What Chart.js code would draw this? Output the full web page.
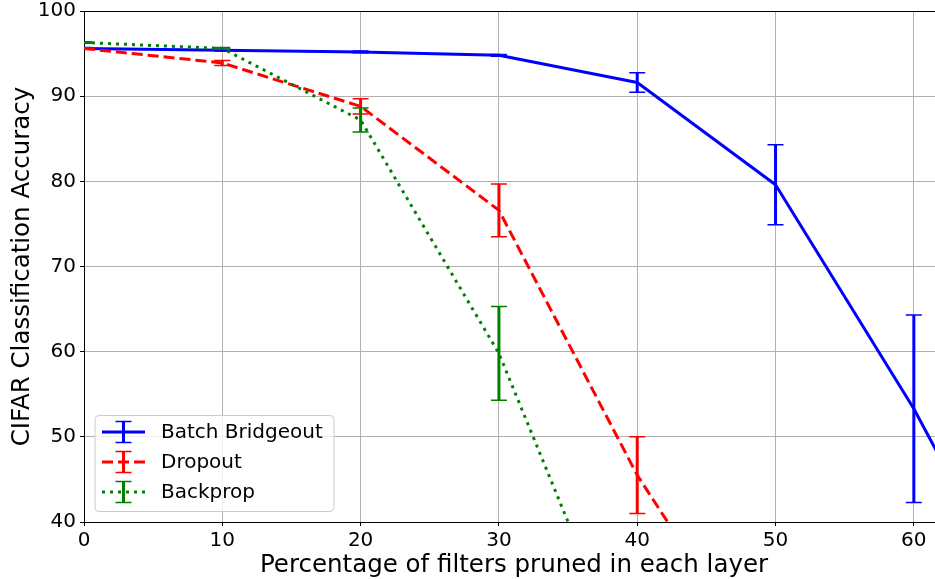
<!DOCTYPE html>
<html>
<head>
<meta charset="utf-8">
<script src="https://cdn.jsdelivr.net/npm/chart.js@4"></script>
<style>
  html, body { margin: 0; padding: 0; background: #fff; }
  #wrap { width: 935px; height: 579px; position: relative; }
</style>
</head>
<body>
<div id="wrap"><canvas id="c" width="935" height="579"></canvas></div>
<script>
// ---- data ----
const xTitle = 'Percentage of filters pruned in each layer';
const yTitle = 'CIFAR Classification Accuracy';
const seriesNames = ['Batch Bridgeout', 'Dropout', 'Backprop'];

const bridgeoutX   = [0, 10, 20, 30, 40, 50, 60, 70];
const bridgeoutY   = [95.6, 95.4, 95.2, 94.8, 91.6, 79.6, 53.3, 23.0];
const bridgeoutErr = [0.1, 0.1, 0.1, 0.1, 1.15, 4.7, 11.0, null];

const dropoutX   = [0, 10, 20, 30, 40, 50];
const dropoutY   = [95.6, 93.9, 88.8, 76.6, 45.5, 20.5];
const dropoutErr = [0.05, 0.3, 0.9, 3.1, 4.5, null];

const backpropX   = [0, 10, 20, 30, 40];
const backpropY   = [96.3, 95.6, 87.2, 59.8, 20.2];
const backpropErr = [0.1, 0.1, 1.4, 5.5, null];

const xMin = 0, xMax = 61.53, yMin = 40, yMax = 100;

const FONT = '"DejaVu Sans", "Liberation Sans", sans-serif';
const colors = ['#0000ff', '#ff0000', '#008000'];
const dashes = [[], [11, 5], [3, 5]];

function pts(xs, ys) { return xs.map((x, i) => ({ x: x, y: ys[i] })); }

const errorBarPlugin = {
  id: 'errorBars',
  afterDatasetDraw(chart, args) {
    const ds = chart.data.datasets[args.index];
    if (!ds.errors) return;
    const { ctx, chartArea: a, scales: { x, y } } = chart;
    ctx.save();
    ctx.beginPath();
    ctx.rect(a.left, a.top, a.right - a.left, a.bottom - a.top);
    ctx.clip();
    ctx.strokeStyle = ds.borderColor;
    ds.data.forEach((p, i) => {
      const e = ds.errors[i];
      if (e == null) return;
      const px = x.getPixelForValue(p.x);
      const pt = y.getPixelForValue(p.y + e);
      const pb = y.getPixelForValue(p.y - e);
      ctx.setLineDash([]);
      ctx.lineWidth = 3;
      ctx.beginPath();
      ctx.moveTo(px, pt); ctx.lineTo(px, pb);
      ctx.stroke();
      ctx.lineWidth = 1.5;
      ctx.beginPath();
      ctx.moveTo(px - 8, pt); ctx.lineTo(px + 8, pt);
      ctx.moveTo(px - 8, pb); ctx.lineTo(px + 8, pb);
      ctx.stroke();
    });
    ctx.restore();
  }
};

const framePlugin = {
  id: 'frame',
  afterDraw(chart) {
    const { ctx, chartArea: a } = chart;
    ctx.save();
    // top spine
    ctx.strokeStyle = '#000';
    ctx.lineWidth = 1;
    ctx.beginPath();
    ctx.moveTo(a.left, Math.round(a.top) + 0.5); ctx.lineTo(a.right, Math.round(a.top) + 0.5);
    ctx.stroke();

    // axis titles
    ctx.fillStyle = '#000';
    ctx.font = '24.5px ' + FONT;
    ctx.textAlign = 'center';
    ctx.textBaseline = 'alphabetic';
    ctx.fillText(xTitle, 514, 572);
    ctx.save();
    ctx.translate(28.5, (a.top + a.bottom) / 2);
    ctx.rotate(-Math.PI / 2);
    ctx.fillText(yTitle, 0, 0);
    ctx.restore();

    // legend
    const lx = a.left + 11, ly = a.bottom - 106.5, lw = 239, lh = 96, r = 4;
    ctx.beginPath();
    ctx.moveTo(lx + r, ly);
    ctx.arcTo(lx + lw, ly, lx + lw, ly + lh, r);
    ctx.arcTo(lx + lw, ly + lh, lx, ly + lh, r);
    ctx.arcTo(lx, ly + lh, lx, ly, r);
    ctx.arcTo(lx, ly, lx + lw, ly, r);
    ctx.closePath();
    ctx.fillStyle = 'rgba(255,255,255,0.8)';
    ctx.fill();
    ctx.strokeStyle = '#cccccc';
    ctx.lineWidth = 1;
    ctx.stroke();

    ctx.font = '20px ' + FONT;
    ctx.textAlign = 'left';
    ctx.textBaseline = 'middle';
    seriesNames.forEach((name, i) => {
      const cy = ly + 16.5 + i * 30;
      const x0 = lx + 7, x1 = lx + 50, xc = (x0 + x1) / 2;
      ctx.strokeStyle = colors[i];
      ctx.lineWidth = 3;
      ctx.lineCap = 'butt';
      ctx.setLineDash(dashes[i]);
      ctx.beginPath();
      ctx.moveTo(x0, cy); ctx.lineTo(x1, cy);
      ctx.stroke();
      ctx.setLineDash([]);
      ctx.beginPath();
      ctx.moveTo(xc, cy - 10.5); ctx.lineTo(xc, cy + 10.5);
      ctx.stroke();
      ctx.lineWidth = 1.5;
      ctx.beginPath();
      ctx.moveTo(xc - 8, cy - 10.5); ctx.lineTo(xc + 8, cy - 10.5);
      ctx.moveTo(xc - 8, cy + 10.5); ctx.lineTo(xc + 8, cy + 10.5);
      ctx.stroke();
      ctx.fillStyle = '#000';
      ctx.fillText(name, lx + 66, cy + 1);
    });
    ctx.restore();
  }
};

function makeDataset(i, xs, ys, errs, order) {
  return {
    label: seriesNames[i],
    data: pts(xs, ys),
    errors: errs,
    borderColor: colors[i],
    backgroundColor: colors[i],
    borderWidth: 3,
    borderDash: dashes[i],
    borderCapStyle: 'butt',
    borderJoinStyle: 'round',
    pointRadius: 0,
    tension: 0,
    fill: false,
    order: order
  };
}

new Chart(document.getElementById('c'), {
  type: 'line',
  data: {
    datasets: [
      makeDataset(0, bridgeoutX, bridgeoutY, bridgeoutErr, 3),
      makeDataset(1, dropoutX, dropoutY, dropoutErr, 2),
      makeDataset(2, backpropX, backpropY, backpropErr, 1)
    ]
  },
  options: {
    responsive: false,
    animation: false,
    devicePixelRatio: 1,
    layout: { padding: { top: 11, right: 0, left: 0, bottom: 0 } },
    plugins: { legend: { display: false }, tooltip: { enabled: false } },
    scales: {
      x: {
        type: 'linear',
        min: xMin, max: xMax,
        afterFit(s) { s.height = 57; s.paddingLeft = 0; s.paddingRight = 0; },
        border: { display: true, color: '#000', width: 1 },
        grid: { color: '#b0b0b0', lineWidth: 1, drawTicks: true, tickLength: 4, tickColor: '#000' },
        ticks: {
          stepSize: 10, includeBounds: false, color: '#000', padding: 3,
          font: { family: FONT, size: 20 }, maxRotation: 0,
          callback: v => String(v)
        }
      },
      y: {
        type: 'linear',
        min: yMin, max: yMax,
        afterFit(s) { s.width = 84; s.paddingTop = 0; s.paddingBottom = 0; },
        border: { display: true, color: '#000', width: 1 },
        grid: { color: '#b0b0b0', lineWidth: 1, drawTicks: true, tickLength: 4, tickColor: '#000' },
        ticks: {
          stepSize: 10, includeBounds: false, color: '#000', padding: 4,
          font: { family: FONT, size: 20 },
          callback: v => String(v)
        }
      }
    }
  },
  plugins: [errorBarPlugin, framePlugin]
});
</script>
</body>
</html>
